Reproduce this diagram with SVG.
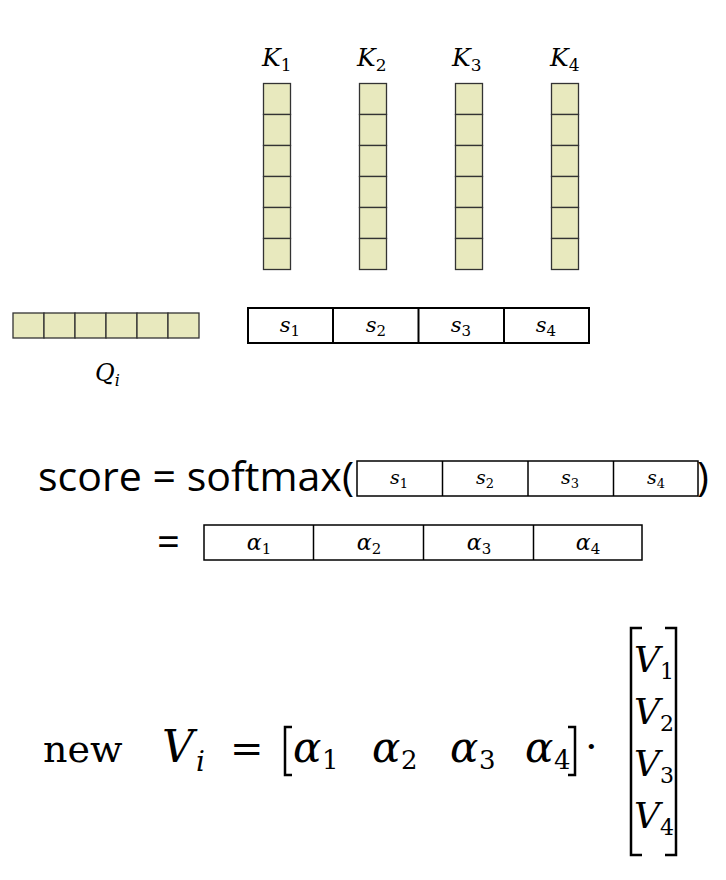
<svg xmlns="http://www.w3.org/2000/svg" width="726" height="880" viewBox="0 0 726 880">
<style>
.cell{fill:#e8e9be;stroke:#333;stroke-width:1.3}
.box{fill:#fff;stroke:#000;stroke-width:2}
.box2{fill:#fff;stroke:#000;stroke-width:1.5}
.m{font-style:italic;fill:#000}
.r{font-style:normal;fill:#000}
.sans{fill:#000}
.br{fill:none;stroke:#000;stroke-width:2.5}
.dv{stroke:#000}
</style>
<defs>
<g id="kcol">
<rect class="cell" x="0" y="0" width="27" height="31"/>
<rect class="cell" x="0" y="31" width="27" height="31"/>
<rect class="cell" x="0" y="62" width="27" height="31"/>
<rect class="cell" x="0" y="93" width="27" height="31"/>
<rect class="cell" x="0" y="124" width="27" height="31"/>
<rect class="cell" x="0" y="155" width="27" height="31"/>
</g>
</defs>

<g font-family="DejaVu Serif, serif">
<g id="K1"><use href="#kcol" x="263.5" y="83.5"/><text class="m" x="262" y="66" font-size="25">K<tspan class="r" font-size="17" dy="5">1</tspan></text></g>
<g id="K2"><use href="#kcol" x="359.5" y="83.5"/><text class="m" x="357" y="66" font-size="25">K<tspan class="r" font-size="17" dy="5">2</tspan></text></g>
<g id="K3"><use href="#kcol" x="455.5" y="83.5"/><text class="m" x="452" y="66" font-size="25">K<tspan class="r" font-size="17" dy="5">3</tspan></text></g>
<g id="K4"><use href="#kcol" x="551.5" y="83.5"/><text class="m" x="550" y="66" font-size="25">K<tspan class="r" font-size="17" dy="5">4</tspan></text></g>

<g id="Q">
<rect class="cell" x="13" y="313" width="31" height="25"/>
<rect class="cell" x="44" y="313" width="31" height="25"/>
<rect class="cell" x="75" y="313" width="31" height="25"/>
<rect class="cell" x="106" y="313" width="31" height="25"/>
<rect class="cell" x="137" y="313" width="31" height="25"/>
<rect class="cell" x="168" y="313" width="31" height="25"/>
<text class="m" x="95" y="381" font-size="24">Q<tspan font-size="16" dy="5">i</tspan></text>
</g>

<g id="S">
<rect class="box" x="248" y="308" width="341" height="35"/>
<line class="dv" x1="333" y1="308" x2="333" y2="343" stroke-width="2"/>
<line class="dv" x1="418.5" y1="308" x2="418.5" y2="343" stroke-width="2"/>
<line class="dv" x1="504" y1="308" x2="504" y2="343" stroke-width="2"/>
<text class="m" font-size="21" y="332" text-anchor="middle"><tspan x="290">s<tspan class="r" font-size="15" dy="4">1</tspan></tspan></text>
<text class="m" font-size="21" y="332" text-anchor="middle"><tspan x="376">s<tspan class="r" font-size="15" dy="4">2</tspan></tspan></text>
<text class="m" font-size="21" y="332" text-anchor="middle"><tspan x="461">s<tspan class="r" font-size="15" dy="4">3</tspan></tspan></text>
<text class="m" font-size="21" y="332" text-anchor="middle"><tspan x="546">s<tspan class="r" font-size="15" dy="4">4</tspan></tspan></text>
</g>

<g id="score">
<text class="sans" font-family="Open Sans, Liberation Sans, sans-serif" x="38" y="491" font-size="40" textLength="316" lengthAdjust="spacingAndGlyphs">score = softmax(</text>
<rect class="box2" x="357" y="461" width="341" height="35"/>
<line class="dv" x1="442.5" y1="461" x2="442.5" y2="496" stroke-width="1.5"/>
<line class="dv" x1="528" y1="461" x2="528" y2="496" stroke-width="1.5"/>
<line class="dv" x1="613.5" y1="461" x2="613.5" y2="496" stroke-width="1.5"/>
<text class="m" font-size="19" y="484" text-anchor="middle"><tspan x="399">s<tspan class="r" font-size="13" dy="4">1</tspan></tspan></text>
<text class="m" font-size="19" y="484" text-anchor="middle"><tspan x="485">s<tspan class="r" font-size="13" dy="4">2</tspan></tspan></text>
<text class="m" font-size="19" y="484" text-anchor="middle"><tspan x="570">s<tspan class="r" font-size="13" dy="4">3</tspan></tspan></text>
<text class="m" font-size="19" y="484" text-anchor="middle"><tspan x="656">s<tspan class="r" font-size="13" dy="4">4</tspan></tspan></text>
<text class="sans" font-family="Open Sans, Liberation Sans, sans-serif" x="697" y="491" font-size="40">)</text>
</g>

<g id="alpha">
<text class="sans" font-family="Open Sans, Liberation Sans, sans-serif" x="157" y="556" font-size="40">=</text>
<rect class="box2" x="204" y="525" width="438" height="35"/>
<line class="dv" x1="313.5" y1="525" x2="313.5" y2="560" stroke-width="1.5"/>
<line class="dv" x1="423.5" y1="525" x2="423.5" y2="560" stroke-width="1.5"/>
<line class="dv" x1="533.5" y1="525" x2="533.5" y2="560" stroke-width="1.5"/>
<text class="m" font-size="22" y="550" text-anchor="middle"><tspan x="259">α<tspan class="r" font-size="15" dy="4">1</tspan></tspan></text>
<text class="m" font-size="22" y="550" text-anchor="middle"><tspan x="369">α<tspan class="r" font-size="15" dy="4">2</tspan></tspan></text>
<text class="m" font-size="22" y="550" text-anchor="middle"><tspan x="479">α<tspan class="r" font-size="15" dy="4">3</tspan></tspan></text>
<text class="m" font-size="22" y="550" text-anchor="middle"><tspan x="588">α<tspan class="r" font-size="15" dy="4">4</tspan></tspan></text>
</g>

<g id="equation">
<text class="r" x="43" y="762" font-size="38">new</text>
<text class="m" x="162" y="762" font-size="44">V</text>
<text class="m" x="196" y="771" font-size="28">i</text>
<text class="r" x="230" y="762" font-size="40">=</text>
<path class="br" d="M292,727 H285 V775 H292"/>
<text class="m" font-size="42" y="762" x="293">α</text>
<text class="r" font-size="26" y="769" x="322">1</text>
<text class="m" font-size="42" y="762" x="372">α</text>
<text class="r" font-size="26" y="769" x="401">2</text>
<text class="m" font-size="42" y="762" x="450">α</text>
<text class="r" font-size="26" y="769" x="479">3</text>
<text class="m" font-size="42" y="762" x="525">α</text>
<text class="r" font-size="26" y="769" x="554">4</text>
<path class="br" d="M568,727 H575 V775 H568"/>
<text class="r" x="585" y="760" font-size="40">·</text>
<path class="br" d="M642,628 H631 V855 H642"/>
<path class="br" d="M665,628 H676 V855 H665"/>
<text class="m" font-size="36" x="634" y="672">V</text><text class="r" font-size="22" x="660" y="679">1</text>
<text class="m" font-size="36" x="634" y="724">V</text><text class="r" font-size="22" x="660" y="731">2</text>
<text class="m" font-size="36" x="634" y="776">V</text><text class="r" font-size="22" x="660" y="783">3</text>
<text class="m" font-size="36" x="634" y="828">V</text><text class="r" font-size="22" x="660" y="835">4</text>
</g>
</g>
</svg>
